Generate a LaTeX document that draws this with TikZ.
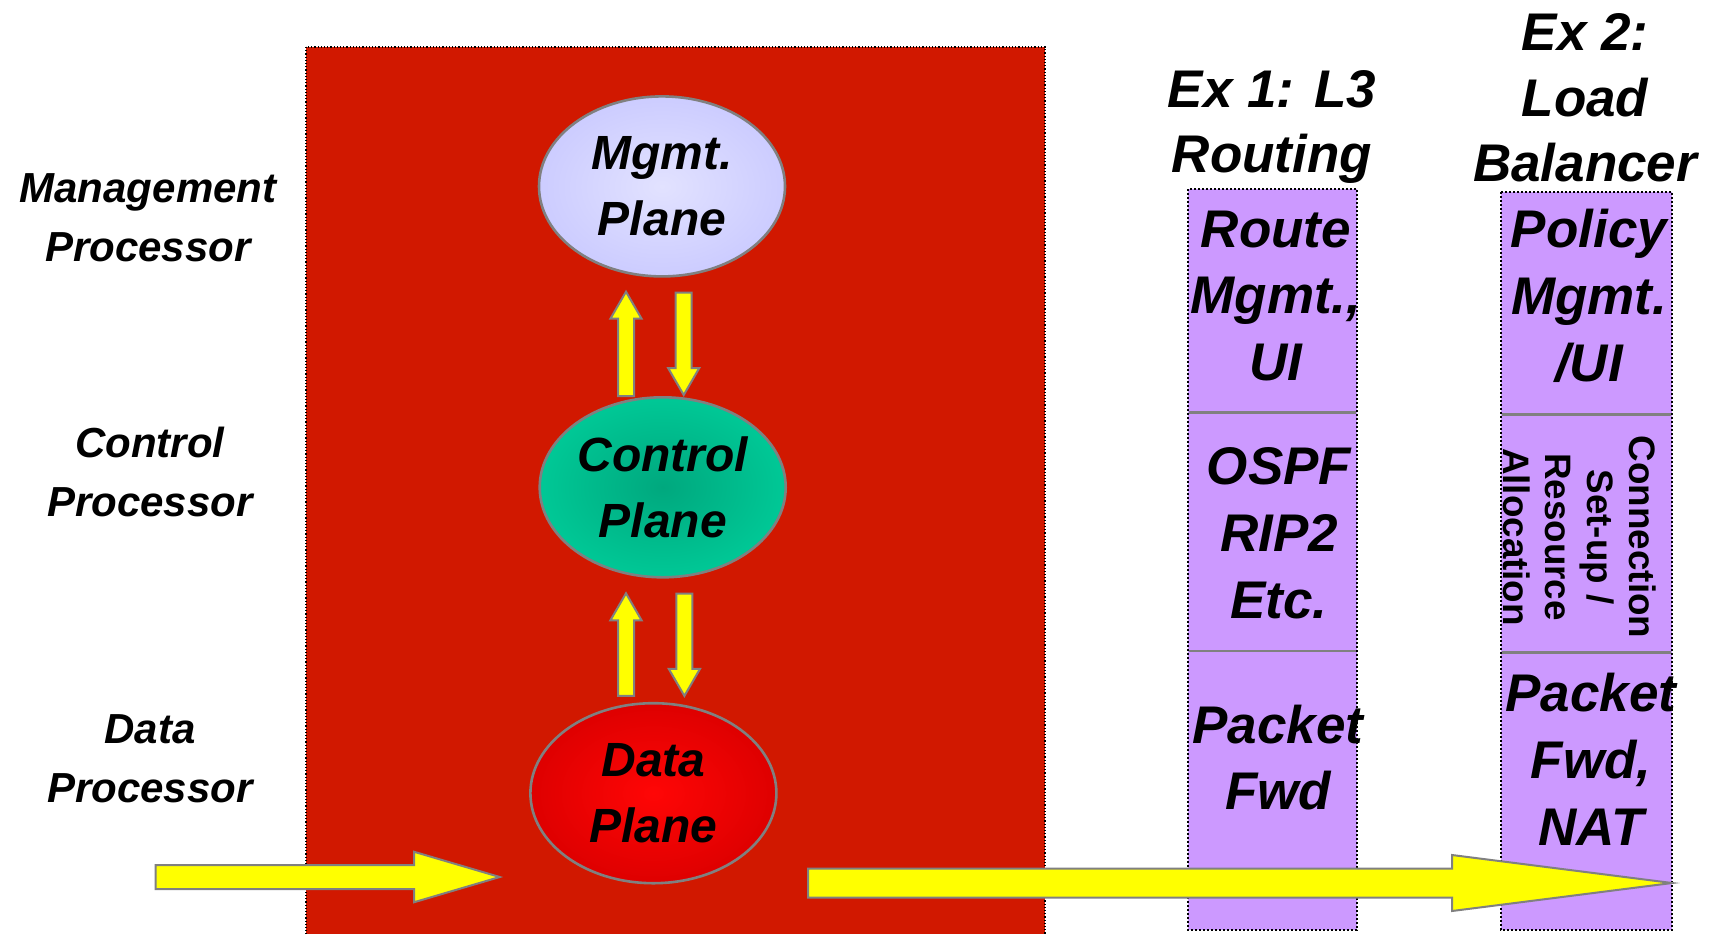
\documentclass[tikz,border=0pt]{standalone}
\usepackage{fontspec}
\setmainfont{Liberation Sans}
\usetikzlibrary{shapes.geometric,calc}
\definecolor{redbg}{RGB}{209,24,0}
\definecolor{purp}{RGB}{204,153,255}
\definecolor{lav}{RGB}{204,204,255}
\definecolor{lavc}{RGB}{226,226,255}
\definecolor{tealo}{RGB}{0,200,150}
\definecolor{teali}{RGB}{0,168,126}
\definecolor{dred}{RGB}{222,0,0}
\definecolor{bred}{RGB}{255,6,6}
\definecolor{edgegray}{RGB}{128,128,128}
\definecolor{yel}{RGB}{255,255,0}
% vertical block arrow: #1 tail, #2 tip, #3 shaft half, #4 head half, #5 signed head length
\newcommand\blkv[5]{\draw[yarr] let \p1=(#1), \p2=(#2) in
  ({\x2-#3},\y1) -- ({\x2-#3},{\y2-(#5)}) -- ({\x2-#4},{\y2-(#5)}) -- (\x2,\y2)
  -- ({\x2+#4},{\y2-(#5)}) -- ({\x2+#3},{\y2-(#5)}) -- ({\x2+#3},\y1) -- cycle;}
% horizontal block arrow (rightwards)
\newcommand\blkh[5]{\draw[yarr] let \p1=(#1), \p2=(#2) in
  (\x1,{\y2+#3}) -- ({\x2-(#5)},{\y2+#3}) -- ({\x2-(#5)},{\y2+#4}) -- (\x2,\y2)
  -- ({\x2-(#5)},{\y2-#4}) -- ({\x2-(#5)},{\y2-#3}) -- (\x1,{\y2-#3}) -- cycle;}
\begin{document}
\begin{tikzpicture}[x=0.5pt,y=-0.5pt,
  yarr/.style={fill=yel,draw=edgegray,line width=1pt,line join=miter},
  plane/.style={ellipse,draw=edgegray,line width=1.3pt,minimum width=123pt,minimum height=90pt,
    inner sep=0pt,align=center,font=\fontsize{24}{33}\selectfont\bfseries\itshape},
  lbl/.style={align=center,inner sep=0pt,font=\fontsize{21}{29.6}\selectfont\bfseries\itshape},
  ttl/.style={align=center,inner sep=0pt,font=\fontsize{26.5}{32.8}\selectfont\bfseries\itshape},
  coltxt/.style={align=center,inner sep=0pt,font=\fontsize{26.5}{33.4}\selectfont\bfseries\itshape},
  rottxt/.style={align=center,inner sep=0pt,rotate=-90,font=\fontsize{18.4}{21}\selectfont\bfseries},
  colbox/.style={fill=purp,draw=black,densely dotted,line width=1pt},
  divline/.style={draw=edgegray,line width=1.3pt}]
\useasboundingbox (0,0) rectangle (1719,933);
\fill[white] (0,0) rectangle (1719,933);
% red system box
\draw[fill=redbg,draw=black,densely dotted,line width=0.6pt] (306,47) rectangle (1045,940);
% example columns
\draw[colbox] (1188,189) rectangle (1357,930);
\draw[divline] (1189,412.5) -- (1356,412.5);
\draw[divline] (1189,651) -- (1356,651);
\draw[colbox] (1501,192) rectangle (1672,930);
\draw[divline] (1502,414.6) -- (1671,414.6);
\draw[divline] (1502,652.7) -- (1671,652.7);
% planes
\node[plane,shading=radial,inner color=lavc,outer color=lav] (mgmt) at (662,186.4) {Mgmt.\\Plane};
\node[plane,shading=radial,inner color=teali,outer color=tealo] (ctrl) at (662.7,487.3) {Control\\Plane};
\node[plane,shading=radial,inner color=bred,outer color=dred] (data) at (653.4,793.2) {Data\\Plane};
% arrows between planes
\coordinate (u1a) at ($(ctrl.north)+(-37,0)$);
\coordinate (u1b) at ($(mgmt.south)+(-36,14)$);
\coordinate (d1a) at ($(mgmt.south)+(22,15)$);
\coordinate (d1b) at ($(ctrl.north)+(21,-1)$);
\coordinate (u2a) at ($(data.north)+(-27.4,-6)$);
\coordinate (u2b) at ($(ctrl.south)+(-36.7,14.7)$);
\coordinate (d2a) at ($(ctrl.south)+(21,15)$);
\coordinate (d2b) at ($(data.north)+(31,-6)$);
\blkv{u1a}{u1b}{4pt}{7.8pt}{13.5pt}
\blkv{d1a}{d1b}{4pt}{7.8pt}{-13.5pt}
\blkv{u2a}{u2b}{4pt}{7.8pt}{13.5pt}
\blkv{d2a}{d2b}{4pt}{7.8pt}{-13.5pt}
% input / output arrows
\coordinate (inA) at (155.7,877);
\coordinate (inB) at ($(data.west)+(-29.4,83.8)$);
\coordinate (outA) at (808,883);
\coordinate (outB) at (1672,883);
\blkh{inA}{inB}{6pt}{12.6pt}{42.75pt}
\blkh{outA}{outB}{7.25pt}{14pt}{110pt}
% left labels
\node[lbl] (lm) at (148,218) {Management\\Processor};
\node[lbl] (lc) at (150,472) {Control\\Processor};
\node[lbl] (ld) at (150,759) {Data\\Processor};
% column titles
\node[ttl] (t1) at (1272,127) {Ex 1: L3\\Routing};
\node[ttl] (t2) at (1585,98) {Ex 2:\\Load\\Balancer};
% column 1 texts
\node[coltxt] (c1a) at (1276,296) {Route\\Mgmt.,\\UI};
\node[coltxt] (c1b) at (1279,533) {OSPF\\RIP2\\Etc.};
\node[coltxt] (c1c) at (1278,757.5) {Packet\\Fwd};
% column 2 texts
\node[coltxt] (c2a) at (1589,296) {Policy\\Mgmt.\\/UI};
\node[rottxt] (c2b) at (1580,537) {Connection\\Set-up /\\Resource\\Allocation};
\node[coltxt] (c2c) at (1591,759) {Packet\\Fwd,\\NAT};
\end{tikzpicture}
\end{document}
